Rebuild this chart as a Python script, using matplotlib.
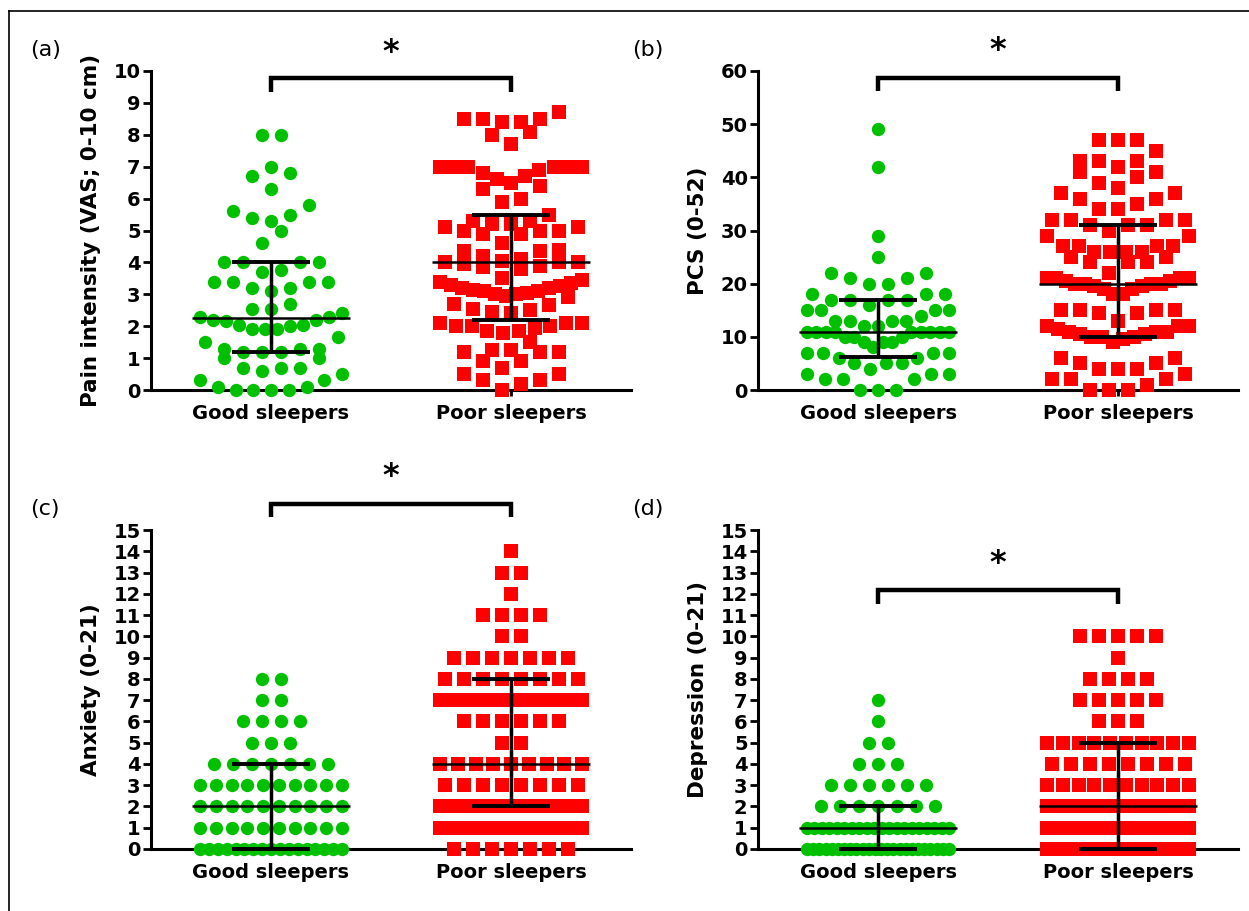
import numpy as np
import matplotlib
matplotlib.use("Agg")
import matplotlib.pyplot as plt
from matplotlib.lines import Line2D

plt.rcParams['font.family'] = ['DejaVu Sans']

# ---------------- data ----------------
groups = ["Good sleepers", "Poor sleepers"]

# (a) Pain intensity (VAS)
pain_good = [8.0, 8.0, 7.0, 6.8, 6.7, 6.3, 5.8, 5.6, 5.5, 5.4, 5.3, 5.0, 4.6,
             4.0, 4.0, 4.0, 4.0, 3.75, 3.7, 3.4, 3.4, 3.4, 3.4, 3.2, 3.2, 3.1,
             2.7, 2.55, 2.55, 2.4, 2.3, 2.3, 2.2, 2.2, 2.15, 2.05, 2.05, 2.0,
             1.9, 1.9, 1.9, 1.65, 1.5, 1.3, 1.3, 1.3, 1.2, 1.2, 1.2, 1.0, 1.0,
             0.7, 0.7, 0.7, 0.6, 0.5, 0.3, 0.3, 0.1, 0.1, 0.0, 0.0, 0.0, 0.0]
pain_poor = [8.7, 8.5, 8.5, 8.5, 8.4, 8.4, 8.1, 8.0, 7.7,
             7.0, 7.0, 7.0, 7.0, 7.0, 7.0, 6.9, 6.8, 6.7, 6.6,
             6.5, 6.4, 6.3, 6.0, 5.9, 5.5, 5.3,
             5.3, 5.2, 5.2, 5.1, 5.1, 5.0, 5.0, 5.0, 4.9, 4.9,
             4.6, 4.4, 4.35, 4.35, 4.2,
             4.1, 4.05, 4.0, 4.0, 4.0, 3.95, 3.9, 3.85, 3.8,
             3.5, 3.45, 3.4, 3.35, 3.3, 3.25, 3.2, 3.2, 3.15, 3.1, 3.1, 3.05,
             3.0, 3.0, 2.95, 2.9,
             2.7, 2.65, 2.55, 2.5, 2.45, 2.4,
             2.1, 2.1, 2.1, 2.0, 2.0, 2.0, 1.95, 1.85, 1.85, 1.8,
             1.5, 1.25, 1.25, 1.2, 1.2, 1.2, 0.9, 0.9, 0.7, 0.5, 0.5,
             0.3, 0.3, 0.2, 0.0]
pain_median = [2.25, 4.0]
pain_q1 = [1.2, 2.2]
pain_q3 = [4.0, 5.5]

# (b) PCS
pcs_good = [49, 42, 29, 25, 22, 22, 21, 21, 20, 20, 18, 18, 18, 17, 17, 17, 17,
            16, 15, 15, 15, 15, 14, 13, 13, 13, 13, 12, 12,
            11, 11, 11, 11, 11, 11, 11, 11, 11, 10, 10, 10, 9, 9, 9, 8,
            7, 7, 7, 7, 6, 6, 5, 5, 5, 4, 3, 3, 3, 2, 2, 2, 0, 0, 0]
pcs_poor = [47, 47, 47, 45, 43, 43, 43, 42, 41, 41, 40, 39, 38, 37, 37, 36, 36,
            35, 34, 34, 32, 32, 32, 32, 31, 31, 31, 30, 29, 29,
            27, 27, 27, 27, 26, 26, 26, 26, 25, 25, 24, 24, 24, 22,
            21, 21, 21, 21, 20.5, 20.5, 20, 20, 20, 20, 19.5, 19.5, 19, 19, 18, 18,
            15, 15, 15, 15, 14.5, 14.5, 13, 12, 12, 12, 11.5, 11, 11, 11,
            10.5, 10.5, 10, 10, 10, 9.5, 9, 6, 6, 5, 5, 4, 4, 4, 3, 2, 2, 2,
            1, 0, 0, 0]
pcs_median = [11, 20]
pcs_q1 = [6.3, 10]
pcs_q3 = [17, 31]

# (c) Anxiety (integer scores: counts per level)
anx_levels = list(range(0, 15))
anx_good_counts = [17, 10, 10, 10, 7, 3, 4, 2, 2, 0, 0, 0, 0, 0, 0]
anx_poor_counts = [7, 16, 16, 8, 9, 2, 6, 16, 8, 7, 2, 4, 1, 2, 1]
anx_median = [2, 4]
anx_q1 = [0, 2]
anx_q3 = [4, 8]

# (d) Depression
dep_levels = list(range(0, 11))
dep_good_counts = [24, 20, 7, 6, 3, 2, 1, 1, 0, 0, 0]
dep_poor_counts = [24, 24, 12, 10, 8, 10, 3, 5, 4, 1, 5]
dep_median = [1, 2]
dep_q1 = [0, 0]
dep_q3 = [2, 5]

GREEN = '#00C000'
RED = '#FF0000'

FIG_W, FIG_H = 1249, 911
AX_W, AX_H = 480, 319


def swarm_offsets(values, ypx, xpx, spacing_px=19.0, max_span_px=142.0, bin_px=17.0):
    v = np.asarray(values, float)
    order = np.argsort(v, kind='stable')
    bins, cur, start = [], [], None
    for idx in order:
        if start is None or (v[idx] - start) * ypx > bin_px:
            if cur:
                bins.append(cur)
            cur, start = [idx], v[idx]
        else:
            cur.append(idx)
    if cur:
        bins.append(cur)
    off = np.zeros(len(v))
    for b in bins:
        n = len(b)
        sp = spacing_px if n <= 1 else min(spacing_px, max_span_px / (n - 1))
        slots = (np.arange(n) - (n - 1) / 2.0) * sp
        so = np.lexsort((slots, np.round(np.abs(slots), 6)))
        for k, idx in enumerate(b):
            off[idx] = slots[so[k]]
    return off / xpx


panels = [
    dict(tag='(a)', left=151, top=71, ymax=10, yticks=np.arange(0, 11, 1),
         ylabel='Pain intensity (VAS; 0-10 cm)',
         good=pain_good, poor=pain_poor, med=pain_median, q1=pain_q1, q3=pain_q3,
         br_top=9.78, br_drop=9.34, star=10.7),
    dict(tag='(b)', left=758, top=71, ymax=60, yticks=np.arange(0, 61, 10),
         ylabel='PCS (0-52)',
         good=pcs_good, poor=pcs_poor, med=pcs_median, q1=pcs_q1, q3=pcs_q3,
         br_top=58.7, br_drop=56.2, star=64.5),
    dict(tag='(c)', left=151, top=530, ymax=15, yticks=np.arange(0, 16, 1),
         ylabel='Anxiety (0-21)',
         good=np.repeat(anx_levels, anx_good_counts),
         poor=np.repeat(anx_levels, anx_poor_counts),
         med=anx_median, q1=anx_q1, q3=anx_q3,
         br_top=16.2, br_drop=15.6, star=17.7),
    dict(tag='(d)', left=758, top=530, ymax=15, yticks=np.arange(0, 16, 1),
         ylabel='Depression (0-21)',
         good=np.repeat(dep_levels, dep_good_counts),
         poor=np.repeat(dep_levels, dep_poor_counts),
         med=dep_median, q1=dep_q1, q3=dep_q3,
         br_top=12.2, br_drop=11.5, star=13.6),
]

fig = plt.figure(figsize=(FIG_W / 100, FIG_H / 100), dpi=100)
fig.patch.set_facecolor('white')

for p in panels:
    ax = fig.add_axes([p['left'] / FIG_W, 1 - (p['top'] + AX_H) / FIG_H,
                       AX_W / FIG_W, AX_H / FIG_H])
    ax.set_xlim(-0.5, 1.5)
    ax.set_ylim(0, p['ymax'])
    xpx = AX_W / 2.0
    ypx = AX_H / p['ymax']

    for i, (vals, col, mk) in enumerate([(p['good'], GREEN, 'o'), (p['poor'], RED, 's')]):
        off = swarm_offsets(vals, ypx, xpx)
        ax.scatter(i + off, vals, s=92 if mk == 'o' else 90, marker=mk, color=col,
                   linewidths=0, zorder=3, clip_on=False)
        # median and IQR
        ax.plot([i - 0.33, i + 0.33], [p['med'][i]] * 2, color='black', lw=1.8,
                zorder=5, clip_on=False, solid_capstyle='butt')
        for q in (p['q1'][i], p['q3'][i]):
            ax.plot([i - 0.1625, i + 0.1625], [q, q], color='black', lw=2.8,
                    zorder=5, clip_on=False, solid_capstyle='butt')
        ax.plot([i, i], [p['q1'][i], p['q3'][i]], color='black', lw=2.5,
                zorder=5, clip_on=False, solid_capstyle='butt')

    # significance bracket
    ax.plot([0, 0, 1, 1], [p['br_drop'], p['br_top'], p['br_top'], p['br_drop']],
            color='black', lw=3.2, clip_on=False, solid_joinstyle='miter',
            solid_capstyle='butt')
    ax.annotate('*', xy=(0.5, p['star']), xytext=(0, -0.40 * 22),
                textcoords='offset points', ha='center', va='baseline',
                fontsize=23, fontweight='bold', annotation_clip=False)

    for s in ('top', 'right'):
        ax.spines[s].set_visible(False)
    for s in ('left', 'bottom'):
        ax.spines[s].set_linewidth(2.2)
        ax.spines[s].set_zorder(2)
    ax.set_yticks(p['yticks'])
    ax.set_xticks([0, 1])
    ax.set_xticklabels(groups)
    ax.tick_params(axis='y', direction='out', length=6, width=2, pad=1.5,
                   labelsize=14)
    ax.tick_params(axis='x', direction='out', length=4, width=2, pad=6,
                   labelsize=14)
    for lab in ax.get_xticklabels() + ax.get_yticklabels():
        lab.set_fontweight('bold')
    ax.patch.set_alpha(0)

    ax.text(-0.125, 0.5, p['ylabel'], transform=ax.transAxes, rotation=90,
            ha='center', va='center', fontsize=15.5, fontweight='bold')
    lab_x = 30 if p['left'] < 600 else 632
    ax.text(lab_x / FIG_W, 1 - (p['top'] - 21) / FIG_H, p['tag'],
            transform=fig.transFigure, ha='left', va='center', fontsize=16)

# outer frame (left and top edges)
fig.add_artist(Line2D([9 / FIG_W, 9 / FIG_W], [0, 1 - 11 / FIG_H],
                      transform=fig.transFigure, color='black', lw=1.2))
fig.add_artist(Line2D([9 / FIG_W, 1], [1 - 11 / FIG_H, 1 - 11 / FIG_H],
                      transform=fig.transFigure, color='black', lw=1.2))

fig.savefig('out.png', dpi=100)
